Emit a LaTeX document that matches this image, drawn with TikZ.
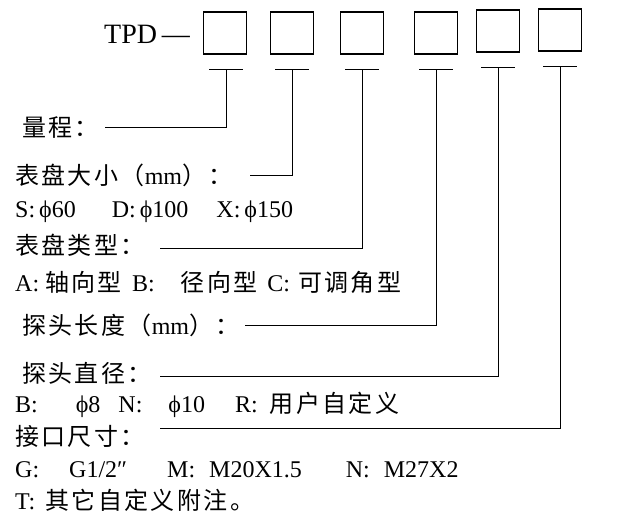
\documentclass[tikz,border=0pt]{standalone}
\usepackage{fontspec}
\setmainfont{Liberation Serif}
\newfontfamily\cjk[LetterSpace=10]{Noto Sans CJK SC}
\begin{document}
\begin{tikzpicture}[x=1pt,y=-1pt,
  bx/.style={draw,line width=1.2pt,minimum width=43pt,minimum height=42pt,inner sep=0pt},
  ln/.style={line width=1pt},
  tx/.style={anchor=west,inner sep=0pt,font=\fontsize{24}{24}\selectfont\cjk}]
\path[use as bounding box] (0,0) rectangle (620,522);
\node[anchor=east,inner sep=0pt,font=\fontsize{28}{28}\selectfont] (tpd) at (190,34) {TPD\,—};
\foreach \n/\x/\y in {1/225/33,2/292/33,3/362/33,4/436/33,5/498/31,6/560/30}
  \node[bx] (b\n) at (\x,\y) {};
\foreach \n/\x/\y in {1/226/69,2/292/69,3/362/69,4/436/69,5/498/67,6/560/66}{
  \coordinate (t\n) at (\x,\y);
  \draw[ln] ([xshift=-17pt]t\n) -- ([xshift=17pt]t\n);}
\node[tx] (l1) at (22,128) {量程：};
\node[tx] (l2) at (15,175) {表盘大小（{\rmfamily mm}）：};
\node[tx,font=\fontsize{24}{24}\selectfont] (l2b) at (15,212) {S:\,ϕ60\hspace{36pt}D:\,ϕ100\hspace{28pt}X:\,ϕ150};
\node[tx] (l3) at (15,245) {表盘类型：};
\node[tx] (l3b) at (15,282) {{\rmfamily A:}\hspace{6pt}轴向型\hspace{10pt}{\rmfamily B:}\hspace{26pt}径向型\hspace{10pt}{\rmfamily C:}\hspace{8pt}可调角型};
\node[tx] (l4) at (22,325) {探头长度（{\rmfamily mm}）：};
\node[tx] (l5) at (22,373) {探头直径：};
\node[tx] (l5b) at (15,405) {{\rmfamily B:}\hspace{38pt}{\rmfamily ϕ8\hspace{18pt}N:}\hspace{26pt}{\rmfamily ϕ10\hspace{30pt}R:}\hspace{12pt}用户自定义};
\node[tx] (l6) at (15,436) {接口尺寸：};
\node[tx] (l6b) at (15,470) {{\rmfamily G:}\hspace{30pt}{\rmfamily G1/2″\hspace{40pt}M:}\hspace{14pt}{\rmfamily M20X1.5\hspace{44pt}N:}\hspace{14pt}{\rmfamily M27X2}};
\node[tx] (l7) at (15,500) {{\rmfamily T:}\hspace{10pt}其它自定义附注。};
\draw[ln] (t1) |- (105,127) coordinate (e1);
\draw[ln] (t2) |- (250,175) coordinate (e2);
\draw[ln] (t3) |- (160,248) coordinate (e3);
\draw[ln] (t4) |- (245,325) coordinate (e4);
\draw[ln] (t5) |- (160,376) coordinate (e5);
\draw[ln] (t6) |- (160,428) coordinate (e6);
\end{tikzpicture}
\end{document}
